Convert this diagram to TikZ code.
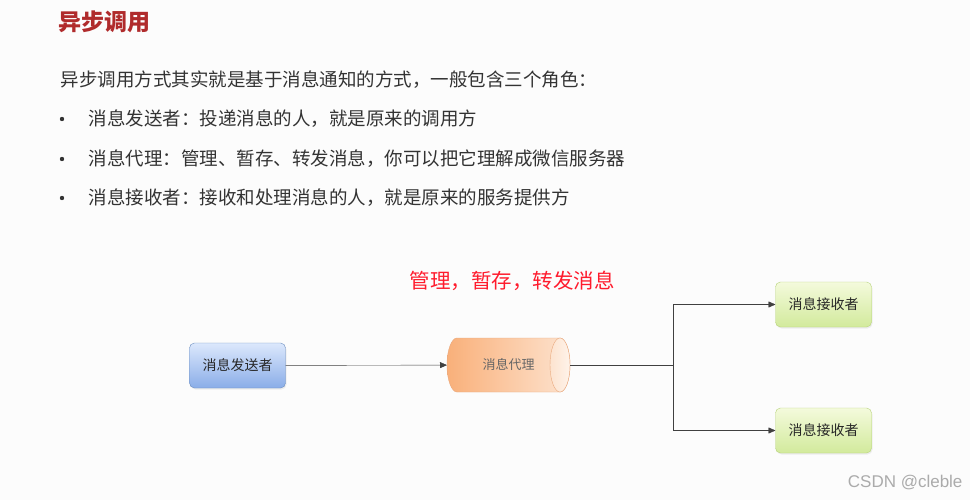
\documentclass[tikz,border=0pt]{standalone}
\usepackage{fontspec}
\setmainfont{Noto Sans CJK SC}
\newfontfamily\marksans{Liberation Sans}
\usetikzlibrary{arrows.meta,shadows,positioning}

\definecolor{titlered}{HTML}{B02B2C}
\definecolor{bodygray}{HTML}{333333}
\definecolor{notered}{HTML}{FF1B2D}
\definecolor{sendtop}{HTML}{DCE8FC}
\definecolor{sendbot}{HTML}{8AADE8}
\definecolor{sendline}{HTML}{6C8EBF}
\definecolor{recvtop}{HTML}{F4FADC}
\definecolor{recvbot}{HTML}{D2EA9C}
\definecolor{recvline}{HTML}{B7D37A}
\definecolor{brokleft}{HTML}{F9B07A}
\definecolor{brokright}{HTML}{FDE3CF}
\definecolor{brokline}{HTML}{E9A97E}
\definecolor{brokend}{HTML}{FEF3EA}

\tikzset{
  bodytext/.style={anchor=west, text=bodygray, font=\fontsize{18.5}{20}\selectfont},
  roundbox/.style={rounded corners=5pt, minimum width=96pt, minimum height=45pt,
    outer sep=0pt, font=\fontsize{14}{16}\selectfont, text=black!85,
    drop shadow={opacity=0.12, shadow xshift=1pt, shadow yshift=-1.5pt}},
  senderbox/.style={roundbox, draw=sendline, top color=sendtop, bottom color=sendbot},
  receiverbox/.style={roundbox, draw=recvline, top color=recvtop, bottom color=recvbot},
  flow/.style={-{Triangle[length=7pt,width=6pt]}, draw=black!75},
}

\begin{document}
\begin{tikzpicture}[x=1pt,y=-1pt]
      % Page
      \fill[black!1!white] (0,0) rectangle (970,500);
      \useasboundingbox (0,0) rectangle (970,500);

      % Title
      \node[anchor=west, text=titlered, font=\fontsize{23}{25}\selectfont\bfseries]
        (title) at (55,22) {异步调用};

      % Text and bullets
      \node[bodytext] (intro) at (57,80) {异步调用方式其实就是基于消息通知的方式，一般包含三个角色：};
      \foreach \y/\txt [count=\i] in {119/{消息发送者：投递消息的人，就是原来的调用方},
          159/{消息代理：管理、暂存、转发消息，你可以把它理解成微信服务器},
          198/{消息接收者：接收和处理消息的人，就是原来的服务提供方}} {
        \fill[bodygray] (62,\y) circle (2.2pt);
        \node[bodytext] (item\i) at (85,\y) {\txt};
      }

      % Note above the broker
      \node[text=notered, font=\fontsize{20.5}{22}\selectfont] (note) at (512,281) {管理，暂存，转发消息};

      % Sender
      \node[senderbox] (sender) at (237.5,365.5) {消息发送者};

      % Broker (cylinder lying on its side)
      \path[draw=brokline, left color=brokleft, right color=brokright]
        (560,338) -- (457,338) arc[start angle=-90, end angle=-270, x radius=10, y radius=27]
        -- (560,392) arc[start angle=90, end angle=-90, x radius=10, y radius=27] -- cycle;
      \draw[brokline, left color=brokright, right color=brokend]
        (560,365) ellipse [x radius=10, y radius=27];
      \node[minimum width=123pt, minimum height=54pt, inner sep=0pt, outer sep=0pt,
        text=black!60, font=\fontsize{13}{15}\selectfont] (broker) at (508.5,365) {消息代理};

      % Receivers
      \node[receiverbox] (recvA) at (823.5,304.5) {消息接收者};
      \node[receiverbox] (recvB) at (823.5,430.5) {消息接收者};

      % Connectors
      \coordinate (fork) at (673,365);
      \draw[flow] (sender) -- (broker);
      \draw[black!75] (broker.east) -- (fork);
      \draw[flow] (fork) |- (recvA);
      \draw[flow] (fork) |- (recvB);

      % Watermark
      \node[anchor=east, text=black!33, font=\marksans\fontsize{17}{19}\selectfont]
        (mark) at (966,483) {CSDN @cleble};
    \end{tikzpicture}
\end{document}
